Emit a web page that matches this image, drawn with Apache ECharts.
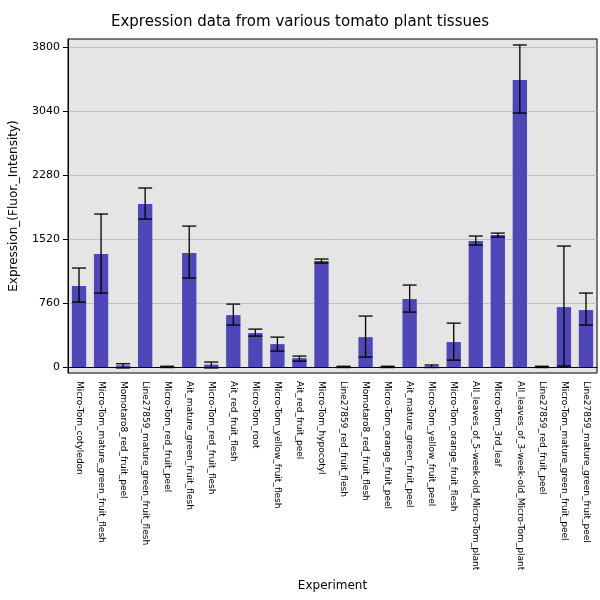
<!DOCTYPE html>
<html><head><meta charset="utf-8">
<script src="https://cdn.jsdelivr.net/npm/echarts@6/dist/echarts.min.js"></script>
<style>html,body{margin:0;background:#fff}#main{width:600px;height:600px}</style>
</head><body><div id="main"></div>
<script>
var categories = ['Micro-Tom_cotyledon','Micro-Tom_mature_green_fruit_flesh','Momotaro8_red_fruit_peel','Line27859_mature_green_fruit_flesh','Micro-Tom_red_fruit_peel','Ait_mature_green_fruit_flesh','Micro-Tom_red_fruit_flesh','Ait_red_fruit_flesh','Micro-Tom_root','Micro-Tom_yellow_fruit_flesh','Ait_red_fruit_peel','Micro-Tom_hypocotyl','Line27859_red_fruit_flesh','Momotaro8_red_fruit_flesh','Micro-Tom_orange_fruit_peel','Ait_mature_green_fruit_peel','Micro-Tom_yellow_fruit_peel','Micro-Tom_orange_fruit_flesh','All_leaves_of_5-week-old_Micro-Tom_plant','Micro-Tom_3rd_leaf','All_leaves_of_3-week-old_Micro-Tom_plant','Line27859_red_fruit_peel','Micro-Tom_mature_green_fruit_peel','Line27859_mature_green_fruit_peel'];
var values = [962,1342,20,1936,5,1354,30,617,404,273,107,1259,5,356,5,808,10,297,1496,1567,3408,5,712,677];
var errLow = [772,879,-10,1757,-5,1057,-10,499,368,190,71,1235,-5,119,-5,653,-5,83,1449,1543,3016,-5,12,499];
var errHigh = [1176,1817,40,2126,10,1674,60,748,451,356,131,1283,10,606,10,974,25,522,1556,1591,3824,10,1437,879];
var yTicks = [0,760,1520,2280,3040,3800];

var chart = echarts.init(document.getElementById('main'));
chart.setOption({
  animation: false,
  title: {text: 'Expression data from various tomato plant tissues', left: 'center', top: 10,
    textStyle: {fontSize: 15, fontWeight: 'normal', color: '#000', fontFamily: 'DejaVu Sans'}},
  grid: {left: 67, right: 3, top: 39, bottom: 227, containLabel: false, backgroundColor: '#e5e5e5', show: true, borderColor: '#000', borderWidth: 1},
  xAxis: {type: 'category', data: categories, name: 'Experiment', nameLocation: 'middle', nameGap: 207,
    nameTextStyle: {fontSize: 12, color: '#000', fontFamily: 'DejaVu Sans'},
    axisLine: {lineStyle: {color: '#000'}}, axisTick: {show: false},
    axisLabel: {rotate: -90, interval: 0, fontSize: 9, color: '#000', fontFamily: 'DejaVu Sans'}},
  yAxis: {type: 'value', min: -70, max: 3895, name: 'Expression_(Fluor._Intensity)', nameLocation: 'middle', nameGap: 48,
    nameTextStyle: {fontSize: 12, color: '#000', fontFamily: 'DejaVu Sans'},
    axisLine: {show: true, lineStyle: {color: '#000'}},
    axisTick: {show: true, customValues: yTicks, lineStyle: {color: '#000'}},
    axisLabel: {customValues: yTicks, formatter: function (v) { return String(v); }, fontSize: 11, color: '#000', fontFamily: 'DejaVu Sans'},
    splitLine: {show: true, lineStyle: {color: '#c0c0c0'}}},
  series: [{
    type: 'bar', data: values, barWidth: '65%', itemStyle: {color: '#4f46b7'}
  }, {
    type: 'custom', z: 5,
    data: categories.map(function (c, i) { return [i, errLow[i], errHigh[i]]; }),
    renderItem: function (params, api) {
      var lo = api.coord([api.value(0), api.value(1)]);
      var hi = api.coord([api.value(0), api.value(2)]);
      var w = 7, s = {stroke: '#000', lineWidth: 1.3};
      return {type: 'group', children: [
        {type: 'line', shape: {x1: lo[0], y1: lo[1], x2: hi[0], y2: hi[1]}, style: s},
        {type: 'line', shape: {x1: lo[0]-w, y1: lo[1], x2: lo[0]+w, y2: lo[1]}, style: s},
        {type: 'line', shape: {x1: hi[0]-w, y1: hi[1], x2: hi[0]+w, y2: hi[1]}, style: s}
      ]};
    }
  }]
});
</script></body></html>
